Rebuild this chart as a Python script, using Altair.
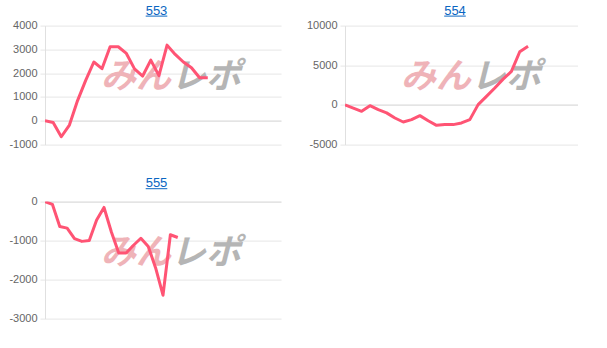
import altair as alt
import pandas as pd

# ---- data ----
names = ["553", "554", "555"]
v553 = [0, -70, -670, -180, 850, 1700, 2470, 2190, 3110, 3110, 2830, 2180,
        1880, 2550, 1900, 3180, 2790, 2470, 2230, 1810, 1810]
v554 = [0, -400, -800, -90, -600, -1000, -1650, -2150, -1850, -1350, -2000,
        -2570, -2480, -2480, -2270, -1850, 40, 1080, 2140, 3250, 4220, 6700, 7400]
v555 = [0, -70, -640, -680, -950, -1020, -1000, -470, -150, -780, -1320,
        -1320, -1120, -940, -1150, -1700, -2400, -850, -920]
slots = [30, 29, 33]
ticks553 = [-1000, 0, 1000, 2000, 3000, 4000]
ticks554 = [-5000, 0, 5000, 10000]
ticks555 = [-3000, -2000, -1000, 0]
wm_left = "みん"
wm_right = "レポ"

LINE = "#ff5474"
BLUE = "#0a66c2"
GRID = "#e6e6e6"
ZERO = "#d2d2d2"
FONT = "Liberation Sans"


def panel(name, vals, nslots, ticks, width, height, title_dy):
    df = pd.DataFrame({"i": list(range(len(vals))), "v": vals})
    x = alt.X("i:Q", scale=alt.Scale(domain=[0, nslots - 1], nice=False, zero=False), axis=None)
    y = alt.Y("v:Q",
              scale=alt.Scale(domain=[min(ticks), max(ticks)], nice=False, zero=False),
              axis=alt.Axis(values=ticks, labelExpr="'' + datum.value", title=None, grid=True,
                            gridColor=alt.condition("datum.value === 0", alt.value(ZERO), alt.value(GRID)),
                            domainColor="#e0e0e0", tickColor=GRID,
                            tickSize=5, labelPadding=3, labelFont=FONT, labelFontSize=11,
                            labelColor="#666666", labelOverlap=False, labelBound=False,
                            labelFlush=False, minExtent=42, maxExtent=42))
    wm1 = alt.Chart(pd.DataFrame({"t": [wm_left]})).mark_text(
        align="right", baseline="middle", font="Noto Sans CJK JP", fontSize=35,
        fontWeight="bold", fontStyle="italic", color="#efb3b8"
    ).encode(x=alt.value(126), y=alt.value(51), text="t:N")
    wm2 = alt.Chart(pd.DataFrame({"t": [wm_right]})).mark_text(
        align="left", baseline="middle", font="Noto Sans CJK JP", fontSize=35,
        fontWeight="bold", fontStyle="italic", color="#b5b5b5"
    ).encode(x=alt.value(126), y=alt.value(51), text="t:N")
    line = alt.Chart(df).mark_line(color=LINE, strokeWidth=3, clip=True,
                                   strokeJoin="round").encode(x=x, y=y)
    cx = width / 2 - 6.5
    title = alt.Chart(pd.DataFrame({"t": [name]})).mark_text(
        align="center", baseline="alphabetic", font=FONT, fontSize=13, color=BLUE
    ).encode(x=alt.value(cx), y=alt.value(title_dy), text="t:N")
    under = alt.Chart(pd.DataFrame({"t": [name]})).mark_rule(color=BLUE, strokeWidth=1).encode(
        x=alt.value(cx - 10.8), x2=alt.value(cx + 10.8), y=alt.value(title_dy + 1.5))
    return alt.layer(wm1, wm2, line, title, under).properties(width=width, height=height)


p553 = panel(names[0], v553, slots[0], ticks553, 236, 119, -11)
p554 = panel(names[1], v554, slots[1], ticks554, 233, 119, -11)
p555 = panel(names[2], v555, slots[2], ticks555, 236, 117, -14.4)

chart = alt.vconcat(
    alt.hconcat(p553, p554, spacing=22),
    p555,
    spacing=27,
).properties(
    padding={"left": 3, "top": 4.6, "right": 0, "bottom": 0},
    background="white",
).configure_view(stroke=None)

chart.save("out.html", embed_options={"renderer": "svg", "actions": False})
